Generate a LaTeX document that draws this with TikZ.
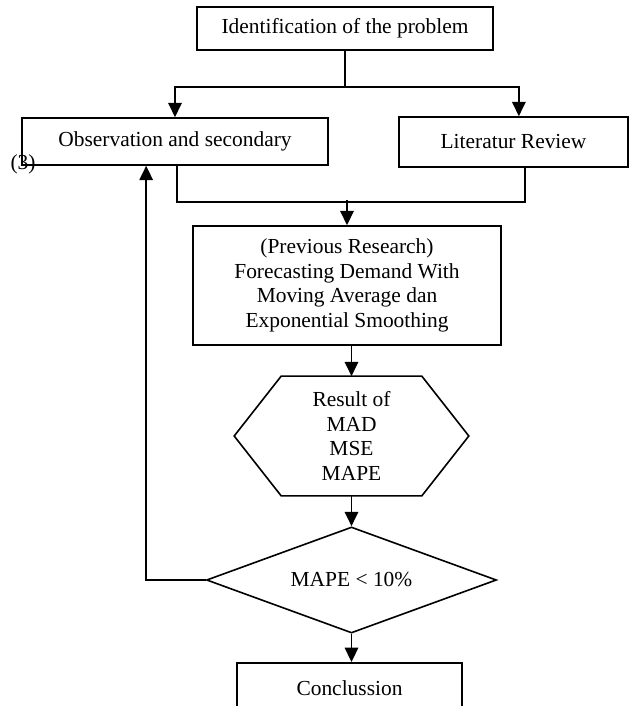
\documentclass[tikz,border=0pt]{standalone}
\usepackage{fontspec}
\setmainfont{Liberation Serif}
\usetikzlibrary{arrows.meta,shapes.geometric}

\begin{document}
\begin{tikzpicture}[x=0.56pt,y=-0.56pt]
	\tikzstyle{stage}=[rectangle,draw=black,line width=0.9pt,inner sep=0pt,align=center,font=\fontsize{12pt}{13.8pt}\selectfont]
	\tikzstyle{decision}=[diamond,draw=black,line width=0.9pt,inner sep=0pt,aspect=2.7,font=\fontsize{12pt}{13.8pt}\selectfont]
	\tikzstyle{line}=[draw,line width=1pt]
	\tikzstyle{edge}=[draw,line width=1pt,-{Triangle[length=8pt,width=7.5pt]}]
	\useasboundingbox (0,0) rectangle (629,706);
	\clip (0,0) rectangle (629,706);
	\begin{scope}
		\node [stage,minimum width=165.8pt,minimum height=24.1pt] (ident) at (345,28.5) {Identification of the problem};
		\node [stage,minimum width=171.4pt,minimum height=26.3pt] (obs) at (175,141.5) {Observation and secondary};
		\node [stage,minimum width=128.2pt,minimum height=28pt] (lit) at (513.5,142) {Literatur Review};
		\node [font=\fontsize{12pt}{13.8pt}\selectfont,inner sep=0pt] (note) at (23,164) {(3)};
		\node [stage,minimum width=172.5pt,minimum height=66.6pt] (prev) at (347,285.5) {(Previous Research)\\Forecasting Demand With\\Moving Average dan\\Exponential Smoothing};
		\node [stage,draw=none,minimum width=130.5pt,minimum height=66.1pt] (res) at (351.5,436) {Result of\\MAD\\MSE\\MAPE};
		\node [decision,minimum width=162.4pt,minimum height=59.4pt] (dec) at (351.5,580) {MAPE < 10\%};
		\node [stage,minimum width=126pt,minimum height=28pt,anchor=north] (concl) at (349.5,662) {Conclussion};
		% hexagon round the results
		\path[draw,line width=0.9pt] ([xshift=26.3pt]res.north west) -- ([xshift=-26.3pt]res.north east) -- (res.east) -- ([xshift=-26.3pt]res.south east) -- ([xshift=26.3pt]res.south west) -- (res.west) -- cycle;
	\end{scope}
	\coordinate (split) at (345,87);
	\coordinate (join) at (347,200);
	\path[line] (ident) -- (split);
	\path[edge] (split) -| (obs.north);
	\path[edge] (split) -| ([xshift=3pt]lit.north);
	\path[line] ([xshift=1pt]obs.south) -- ++(0,36) -| ([xshift=6.4pt]lit.south);
	\path[edge] (join) -- (prev);
	\path[edge] (prev.south -| res.north) -- (res.north);
	\path[edge] (res.south) -- (dec.north);
	\path[edge] (dec.south) -- (dec.south |- concl.north);
	\path[edge] (dec.west) -| ([xshift=70pt]obs.south west);
\end{tikzpicture}
\end{document}
